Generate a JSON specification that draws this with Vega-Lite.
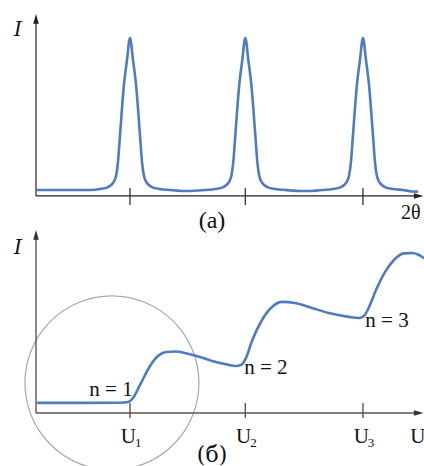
{
  "$schema": "https://vega.github.io/schema/vega-lite/v6.json",
  "padding": 0,
  "spacing": 0,
  "bounds": "flush",
  "background": "white",
  "config": {"view": {"stroke": null}},
  "resolve": {"scale": {"x": "independent", "y": "independent"}},
  "vconcat": [
    {
      "width": 424,
      "height": 230,
      "encoding": {
        "x": {"field": "x", "type": "quantitative", "scale": {"domain": [-0.116, 3.524], "nice": false, "zero": false}, "axis": null},
        "y": {"field": "y", "type": "quantitative", "scale": {"domain": [-0.187, 1.077], "nice": false, "zero": false}, "axis": null}
      },
      "layer": [
        {
          "data": {"values": [
            {"x": 0.193, "y": 0, "x2": 3.46, "y2": 0},
            {"x": 0.193, "y": 0, "x2": 0.193, "y2": 0.96},
            {"x": 1.0, "y": 0.044, "x2": 1.0, "y2": -0.049},
            {"x": 1.99, "y": 0.044, "x2": 1.99, "y2": -0.049},
            {"x": 3.0, "y": 0.044, "x2": 3.0, "y2": -0.049}
          ]},
          "mark": {"type": "rule", "color": "#222222", "strokeWidth": 1.2},
          "encoding": {"x2": {"field": "x2"}, "y2": {"field": "y2"}}
        },
        {
          "data": {"values": [
            {"x": 0.193, "y": 0.969, "dir": "up"},
            {"x": 3.472, "y": 0, "dir": "right"}
          ]},
          "mark": {"type": "point", "filled": true, "color": "#222222", "size": 64, "opacity": 1},
          "encoding": {
            "shape": {"field": "dir", "type": "nominal", "scale": {"domain": ["up", "right"], "range": ["M0,-1.4L0.7,1L-0.7,1Z", "M1.4,0L-1,0.7L-1,-0.7Z"]}, "legend": null}
          }
        },
        {
          "data": {"values": [
            {"x": 0.202, "y": 0.033}, {"x": 0.45, "y": 0.033},
            {"x": 0.657, "y": 0.033}, {"x": 0.742, "y": 0.038}, {"x": 0.811, "y": 0.049}, {"x": 0.854, "y": 0.071}, {"x": 0.880, "y": 0.110}, {"x": 0.897, "y": 0.187}, {"x": 0.910, "y": 0.297}, {"x": 0.927, "y": 0.445}, {"x": 0.948, "y": 0.610}, {"x": 0.974, "y": 0.747}, {"x": 1.0, "y": 0.868}, {"x": 1.026, "y": 0.747}, {"x": 1.052, "y": 0.610}, {"x": 1.073, "y": 0.445}, {"x": 1.090, "y": 0.297}, {"x": 1.103, "y": 0.187}, {"x": 1.120, "y": 0.110}, {"x": 1.146, "y": 0.071}, {"x": 1.189, "y": 0.049}, {"x": 1.258, "y": 0.038}, {"x": 1.343, "y": 0.033},
            {"x": 1.5, "y": 0.027},
            {"x": 1.647, "y": 0.033}, {"x": 1.732, "y": 0.038}, {"x": 1.801, "y": 0.049}, {"x": 1.844, "y": 0.071}, {"x": 1.870, "y": 0.110}, {"x": 1.887, "y": 0.187}, {"x": 1.900, "y": 0.297}, {"x": 1.917, "y": 0.445}, {"x": 1.938, "y": 0.610}, {"x": 1.964, "y": 0.747}, {"x": 1.99, "y": 0.868}, {"x": 2.016, "y": 0.747}, {"x": 2.042, "y": 0.610}, {"x": 2.063, "y": 0.445}, {"x": 2.080, "y": 0.297}, {"x": 2.093, "y": 0.187}, {"x": 2.110, "y": 0.110}, {"x": 2.136, "y": 0.071}, {"x": 2.179, "y": 0.049}, {"x": 2.248, "y": 0.038}, {"x": 2.333, "y": 0.033},
            {"x": 2.5, "y": 0.027},
            {"x": 2.657, "y": 0.033}, {"x": 2.742, "y": 0.038}, {"x": 2.811, "y": 0.049}, {"x": 2.854, "y": 0.071}, {"x": 2.880, "y": 0.110}, {"x": 2.897, "y": 0.187}, {"x": 2.910, "y": 0.297}, {"x": 2.927, "y": 0.445}, {"x": 2.948, "y": 0.610}, {"x": 2.974, "y": 0.747}, {"x": 3.0, "y": 0.868}, {"x": 3.026, "y": 0.747}, {"x": 3.052, "y": 0.610}, {"x": 3.073, "y": 0.445}, {"x": 3.090, "y": 0.297}, {"x": 3.103, "y": 0.187}, {"x": 3.120, "y": 0.110}, {"x": 3.146, "y": 0.071}, {"x": 3.189, "y": 0.049}, {"x": 3.258, "y": 0.038}, {"x": 3.343, "y": 0.033},
            {"x": 3.42, "y": 0.025}, {"x": 3.464, "y": 0.024}
          ]},
          "mark": {"type": "line", "color": "#4f7cbf", "strokeWidth": 2.6, "interpolate": "monotone", "strokeCap": "round", "strokeJoin": "round"}
        },
        {
          "data": {"values": [{"x": 0.039, "y": 0.912, "t": "I"}]},
          "mark": {"type": "text", "font": "DejaVu Serif", "fontStyle": "italic", "fontSize": 20, "color": "#111111", "align": "center", "baseline": "middle"},
          "encoding": {"text": {"field": "t"}}
        },
        {
          "data": {"values": [{"x": 1.704, "y": -0.135, "t": "(a)"}]},
          "mark": {"type": "text", "font": "Liberation Serif", "fontSize": 24, "color": "#111111", "align": "center", "baseline": "middle"},
          "encoding": {"text": {"field": "t"}}
        },
        {
          "data": {"values": [{"x": 3.41, "y": -0.095, "t": "2θ"}]},
          "mark": {"type": "text", "font": "serif", "fontSize": 20, "color": "#111111", "align": "center", "baseline": "middle"},
          "encoding": {"text": {"field": "t"}}
        }
      ]
    },
    {
      "width": 424,
      "height": 236,
      "encoding": {
        "x": {"field": "x", "type": "quantitative", "scale": {"domain": [-0.116, 3.524], "nice": false, "zero": false}, "axis": null},
        "y": {"field": "y", "type": "quantitative", "scale": {"domain": [-0.290, 1.0], "nice": false, "zero": false}, "axis": null}
      },
      "layer": [
        {
          "data": {"values": [{"x": 0.845, "y": 0.164}]},
          "mark": {"type": "point", "shape": "circle", "size": 30276, "filled": false, "stroke": "#a8a8a8", "strokeWidth": 1.2, "opacity": 1}
        },
        {
          "data": {"values": [
            {"x": 0.193, "y": 0, "x2": 3.46, "y2": 0},
            {"x": 0.193, "y": 0, "x2": 0.193, "y2": 0.96},
            {"x": 1.0, "y": 0.055, "x2": 1.0, "y2": -0.027},
            {"x": 1.99, "y": 0.055, "x2": 1.99, "y2": -0.027},
            {"x": 3.0, "y": 0.055, "x2": 3.0, "y2": -0.027}
          ]},
          "mark": {"type": "rule", "color": "#555555", "strokeWidth": 1.4},
          "encoding": {"x2": {"field": "x2"}, "y2": {"field": "y2"}}
        },
        {
          "data": {"values": [
            {"x": 0.193, "y": 0.969, "dir": "up"},
            {"x": 3.472, "y": 0, "dir": "right"}
          ]},
          "mark": {"type": "point", "filled": true, "color": "#333333", "size": 64, "opacity": 1},
          "encoding": {
            "shape": {"field": "dir", "type": "nominal", "scale": {"domain": ["up", "right"], "range": ["M0,-1.4L0.7,1L-0.7,1Z", "M1.4,0L-1,0.7L-1,-0.7Z"]}, "legend": null}
          }
        },
        {
          "data": {"values": [
            {"x": 0.210, "y": 0.055}, {"x": 0.571, "y": 0.055}, {"x": 0.914, "y": 0.056}, {"x": 0.983, "y": 0.060},
            {"x": 1.026, "y": 0.082}, {"x": 1.086, "y": 0.153}, {"x": 1.172, "y": 0.257}, {"x": 1.240, "y": 0.311},
            {"x": 1.309, "y": 0.333}, {"x": 1.386, "y": 0.336}, {"x": 1.489, "y": 0.325}, {"x": 1.601, "y": 0.306},
            {"x": 1.704, "y": 0.284}, {"x": 1.815, "y": 0.268}, {"x": 1.910, "y": 0.257}, {"x": 1.953, "y": 0.262},
            {"x": 1.996, "y": 0.301}, {"x": 2.047, "y": 0.393}, {"x": 2.133, "y": 0.508}, {"x": 2.219, "y": 0.579},
            {"x": 2.305, "y": 0.607}, {"x": 2.416, "y": 0.601}, {"x": 2.562, "y": 0.574}, {"x": 2.708, "y": 0.546},
            {"x": 2.880, "y": 0.525}, {"x": 2.966, "y": 0.519}, {"x": 3.009, "y": 0.530}, {"x": 3.052, "y": 0.579},
            {"x": 3.112, "y": 0.672}, {"x": 3.189, "y": 0.770}, {"x": 3.266, "y": 0.836}, {"x": 3.352, "y": 0.872},
            {"x": 3.421, "y": 0.874}, {"x": 3.472, "y": 0.866}, {"x": 3.524, "y": 0.847}
          ]},
          "mark": {"type": "line", "color": "#4f7cbf", "strokeWidth": 2.6, "interpolate": "monotone", "strokeCap": "round"}
        },
        {
          "data": {"values": [{"x": 0.039, "y": 0.902, "t": "I"}]},
          "mark": {"type": "text", "font": "DejaVu Serif", "fontStyle": "italic", "fontSize": 20, "color": "#111111", "align": "center", "baseline": "middle"},
          "encoding": {"text": {"field": "t"}}
        },
        {
          "data": {"values": [
            {"x": 0.837, "y": 0.126, "t": "n = 1"},
            {"x": 2.167, "y": 0.246, "t": "n = 2"},
            {"x": 3.206, "y": 0.503, "t": "n = 3"},
            {"x": 0.985, "y": -0.13, "t": "U"},
            {"x": 1.975, "y": -0.13, "t": "U"},
            {"x": 2.985, "y": -0.13, "t": "U"},
            {"x": 3.47, "y": -0.13, "t": "U"}
          ]},
          "mark": {"type": "text", "font": "Liberation Serif", "fontSize": 21, "color": "#111111", "align": "center", "baseline": "middle"},
          "encoding": {"text": {"field": "t"}}
        },
        {
          "data": {"values": [{"x": 1.704, "y": -0.232, "t": "(б)"}]},
          "mark": {"type": "text", "font": "DejaVu Serif", "fontSize": 22, "color": "#111111", "align": "center", "baseline": "middle"},
          "encoding": {"text": {"field": "t"}}
        },
        {
          "data": {"values": [
            {"x": 1.07, "y": -0.165, "t": "1"},
            {"x": 2.06, "y": -0.165, "t": "2"},
            {"x": 3.07, "y": -0.165, "t": "3"}
          ]},
          "mark": {"type": "text", "font": "Liberation Serif", "fontSize": 13, "color": "#111111", "align": "center", "baseline": "middle"},
          "encoding": {"text": {"field": "t"}}
        }
      ]
    }
  ]
}
